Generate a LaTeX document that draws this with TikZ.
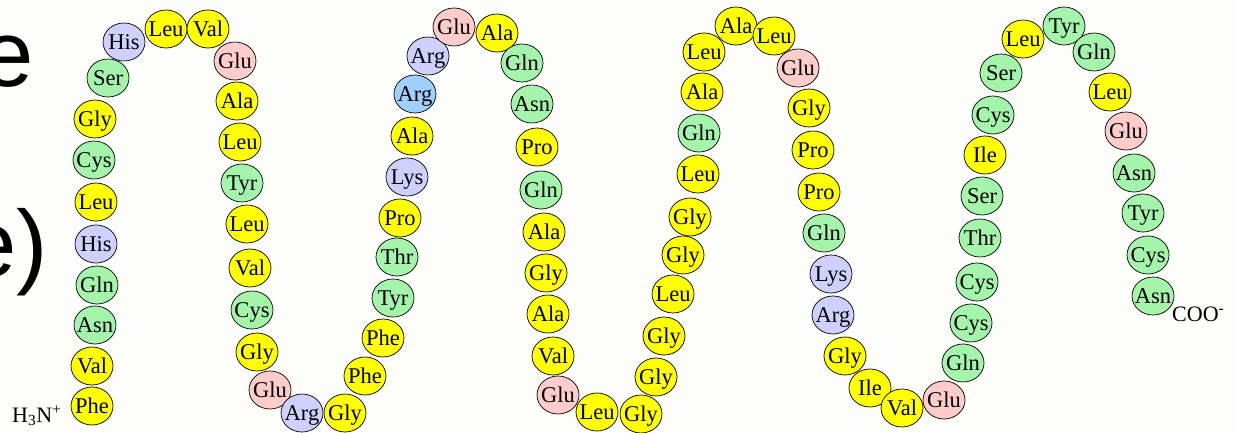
\documentclass[tikz,border=0pt]{standalone}
\usepackage{fontspec}
\setmainfont{Liberation Serif}
\newfontfamily\bigsans{Liberation Sans}
\usetikzlibrary{shapes.geometric}
\definecolor{bgc}{RGB}{253,253,249}
\definecolor{cyel}{RGB}{255,255,0}
\definecolor{cgrn}{RGB}{164,244,172}
\definecolor{cpnk}{RGB}{255,204,204}
\definecolor{clav}{RGB}{208,208,255}
\definecolor{cblu}{RGB}{160,208,255}
\newcommand\restxt[1]{\makebox[0pt][c]{\raisebox{-0.33em}[0pt][0pt]{#1}}}
\tikzset{
  res/.style={ellipse, draw=black, line width=0.7pt, minimum width=42pt, minimum height=38pt, inner sep=0pt, font=\fontsize{22.5}{22.5}\selectfont},
  yel/.style={fill=cyel},
  grn/.style={fill=cgrn},
  pnk/.style={fill=cpnk},
  lav/.style={fill=clav},
  blu/.style={fill=cblu},
  endlabel/.style={inner sep=0pt, font=\fontsize{22}{22}\selectfont},
  bigtext/.style={inner sep=0pt, font=\bigsans\fontsize{94}{94}\selectfont}
}
\begin{document}
\begin{tikzpicture}[x=1pt,y=-1pt]
\useasboundingbox (0,0) rectangle (1238,433);
\clip (0,0) rectangle (1238,433);
\fill[bgc] (0,0) rectangle (1238,433);
\node[bigtext, anchor=base east] (t1) at (34,87) {e};
\node[bigtext, anchor=base east] (t2) at (48,276) {e)};
\foreach \n/\x/\y/\t/\c in {
1/92/406/Phe/yel, 2/92/366/Val/yel, 3/95/325/Asn/grn, 4/97/285/Gln/grn,
5/96/244/His/lav, 6/96/202/Leu/yel, 7/94/160/Cys/grn, 8/95/119/Gly/yel,
9/108/78/Ser/grn, 10/124/42/His/lav, 11/166/29/Leu/yel, 12/208/29/Val/yel,
13/235/61/Glu/pnk, 14/237/101/Ala/yel, 15/240/142/Leu/yel, 16/242/183/Tyr/grn,
17/247/224/Leu/yel, 18/250/268/Val/yel, 19/252/310/Cys/grn, 20/257/352/Gly/yel,
21/270/390/Glu/pnk, 22/302/413/Arg/lav, 23/345/413/Gly/yel, 24/365/376/Phe/yel,
25/383/338/Phe/yel, 26/393/298/Tyr/grn, 27/397/257/Thr/grn, 28/400/218/Pro/yel,
29/407/177/Lys/lav, 30/412/136/Ala/yel, 31/415/94/Arg/blu, 32/428/56/Arg/lav,
33/454/27/Glu/pnk, 34/497/33/Ala/yel, 35/522/63/Gln/grn, 36/532/104/Asn/grn,
37/537/147/Pro/yel, 38/541/190/Gln/grn, 39/544/232/Ala/yel, 40/546/273/Gly/yel,
41/548/314/Ala/yel, 42/553/356/Val/yel, 43/558/395/Glu/pnk, 44/597/412/Leu/yel,
45/641/414/Gly/yel, 46/656/377/Gly/yel, 47/664/336/Gly/yel, 48/673/294/Leu/yel,
49/683/255/Gly/yel, 50/690/217/Gly/yel, 51/698/174/Leu/yel, 52/699/133/Gln/grn,
53/702/92/Ala/yel, 54/704/52/Leu/yel, 55/736/26/Ala/yel, 56/774/36/Leu/yel,
57/798/68/Glu/pnk, 58/809/108/Gly/yel, 59/813/150/Pro/yel, 60/819/192/Pro/yel,
61/824/233/Gln/grn, 62/831/274/Lys/lav, 63/833/315/Arg/lav, 64/845/356/Gly/yel,
65/870/388/Ile/yel, 66/902/408/Val/yel, 67/944/400/Glu/pnk, 68/963/363/Gln/grn,
69/971/323/Cys/grn, 70/977/282/Cys/grn, 71/980/238/Thr/grn, 72/982/196/Ser/grn,
73/985/155/Ile/yel, 74/993/115/Cys/grn, 75/1001/73/Ser/grn, 76/1023/39/Leu/yel,
77/1064/26/Tyr/grn, 78/1094/52/Gln/grn, 79/1110/92/Leu/yel, 80/1126/131/Glu/pnk,
81/1134/173/Asn/grn, 82/1143/213/Tyr/grn, 83/1148/255/Cys/grn, 84/1153/296/Asn/grn}
{
  \node[res,\c] (r\n) at (\x,\y) {\restxt{\t}};
}
\node[endlabel, anchor=base west] (nterm) at (12,422) {H\textsubscript{3}N\textsuperscript{+}};
\node[endlabel, anchor=base west] (cterm) at (1172,321) {COO\textsuperscript{-}};
\end{tikzpicture}
\end{document}
